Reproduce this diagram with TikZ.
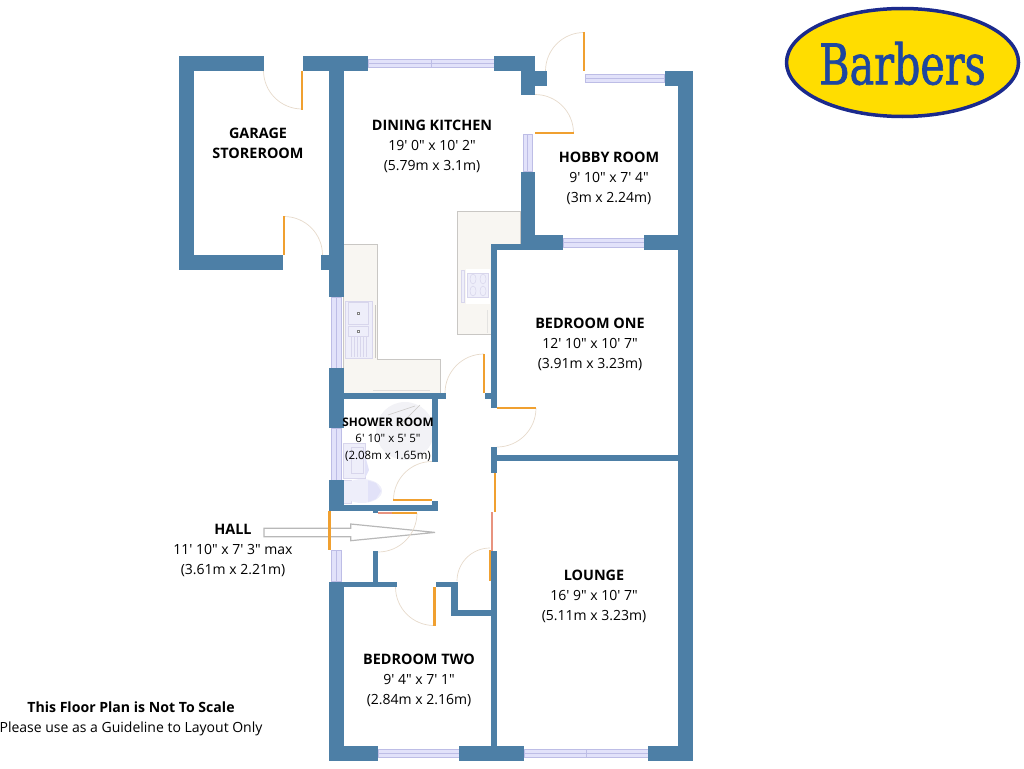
\documentclass[tikz,border=0pt]{standalone}
\usepackage{fontspec}
\setmainfont{Open Sans}
\newfontfamily\plainfont{Open Sans}
\newfontfamily\logofont[FakeBold=1.3]{DejaVu Serif Condensed}
\definecolor{wallc}{HTML}{4D7FA6}
\definecolor{glassc}{HTML}{E2E2FA}
\definecolor{glassl}{HTML}{BDBDE6}
\definecolor{leafc}{HTML}{F0A030}
\definecolor{pinkc}{HTML}{E8937F}
\definecolor{swingc}{HTML}{E6DACB}
\definecolor{unitc}{HTML}{F8F6F2}
\definecolor{unitl}{HTML}{C9C7C4}
\definecolor{fixc}{HTML}{EEEEFA}
\definecolor{fixd}{HTML}{E2E2F8}
\definecolor{fixl}{HTML}{D8D6EC}
\definecolor{trayc}{HTML}{F2F2F6}
\definecolor{logoy}{HTML}{FFDD00}
\definecolor{logob}{HTML}{1B2A8C}
\definecolor{logot}{HTML}{1E46A0}
\tikzset{
  wall/.style={fill=wallc},
  glass/.style={fill=glassc,draw=glassl,line width=0.6pt},
  leaf/.style={draw=leafc,line width=2.6pt},
  swingarc/.style={draw=swingc,line width=0.7pt},
  unit/.style={fill=unitc,draw=unitl,line width=0.8pt},
  fix/.style={fill=fixc,draw=fixl,line width=0.6pt},
  title/.style={anchor=base,font=\plainfont\fontsize{14.4}{16}\selectfont\bfseries,inner sep=0pt},
  notetitle/.style={anchor=base,font=\plainfont\fontsize{14.1}{16}\selectfont\bfseries,inner sep=0pt},
  dims/.style={anchor=base,font=\plainfont\fontsize{14}{16}\selectfont,inner sep=0pt},
  stitle/.style={anchor=base,font=\plainfont\fontsize{11.8}{14}\selectfont\bfseries,inner sep=0pt},
  sdims/.style={anchor=base,font=\plainfont\fontsize{11.5}{14}\selectfont,inner sep=0pt},
}
\newcommand\doorswing[5]{\draw[swingarc] ([shift={(#3:#5)}]#1,#2) arc[start angle=#3,end angle=#4,radius=#5];}
\begin{document}
\begin{tikzpicture}[x=1pt,y=-1pt]
\useasboundingbox (0,0) rectangle (1024,768);
% logo
\draw[fill=logoy,draw=logob,line width=3.5pt] (902.5,62.5) ellipse[x radius=116,y radius=54];
\node[inner sep=0pt] (logo) at (902.5,63.5) {\scalebox{0.82}[1.0]{\logofont\fontsize{56}{60}\selectfont\color{logot}Barbers}};
% kitchen units
\draw[unit] (343.5,244) -- (377,244) -- (377,359) -- (440,359) -- (440,393) -- (343.5,393) -- cycle;
\draw[draw=unitl,line width=0.6pt] (375,305) -- (375,358);
\draw[draw=unitl!60,line width=0.6pt] (373,390) -- (430,390);
\draw[fix] (345,301) rectangle (372,358);
\draw[fix] (348.5,302.5) rectangle (368.5,324.5);
\draw[fix] (348.5,326) rectangle (368.5,336);
\foreach \lx in {351,354,...,366} \draw[draw=fixl,line width=0.5pt] (\lx,337) -- (\lx,357);
\fill[draw=gray,line width=0.3pt,fill=white] (357.2,312.2) rectangle (358.8,313.8);
\fill[draw=gray,line width=0.3pt,fill=white] (357.2,330.2) rectangle (358.8,331.8);
\draw[unit] (457.5,211) -- (520.5,211) -- (520.5,244) -- (491,244) -- (491,334) -- (457.5,334) -- cycle;
\draw[draw=unitl!50,line width=0.5pt] (487,310) -- (487,333);
\draw[fix] (461,270) rectangle (464.5,302);
\fill[white] (466,269) rectangle (490,304);
\draw[fix] (467,273) rectangle (488,297);
\foreach \bx/\by in {473/279,473/291,483/279,483/291} \draw[draw=fixl,line width=0.5pt] (\bx,\by) ellipse[x radius=3,y radius=5];
% shower room fittings
\begin{scope}
\clip (343.5,399) rectangle (432,470);
\fill[trayc] (405,431) circle[radius=29];
\end{scope}
\draw[draw=unitl,line width=0.6pt] (388,415) -- (415,406) (398,427) -- (420,405);
\draw[fix] (343.5,443) rectangle (365,478);
\draw[draw=fixl,line width=0.5pt] (351,447) rectangle (363,473);
\fill[fixd] (365,455) -- (369,470) -- (365,478) -- cycle;
\draw[fix] (343.5,480) rectangle (351,503);
\fill[fixc] (362,491) ellipse[x radius=20,y radius=12];
\fill[fixd] (368,480.5) -- (376,483) -- (381,491) -- (376,499) -- (368,502) -- cycle;
% arrow
\draw[draw=black!28,fill=white,line width=1.2pt,line join=miter] (264,528.3) -- (350.7,528.3) -- (350.7,524) -- (435,532.4) -- (350.7,540.7) -- (350.7,536.7) -- (264,536.7) -- cycle;
% door swings
\doorswing{302}{70.5}{180}{90}{38.5}
\doorswing{284}{255}{-90}{0}{38.5}
\doorswing{584}{71}{180}{270}{38.5}
\doorswing{535}{133}{-90}{0}{38.5}
\doorswing{484}{393}{-90}{-180}{39}
\doorswing{497}{408}{0}{90}{39}
\doorswing{432}{500}{180}{270}{38.5}
\doorswing{378}{513}{0}{90}{39}
\doorswing{434}{587}{180}{90}{38.5}
\doorswing{490}{581}{180}{270}{33}
% glazing
\draw[glass] (368,59.3) rectangle (494,67.5);
\draw[draw=glassl,line width=0.5pt] (368,63.4) -- (494,63.4) (431,59.3) -- (431,67.5);
\draw[glass] (585,74) rectangle (664.5,82.7);
\draw[draw=glassl,line width=0.5pt] (585,78.3) -- (664.5,78.3);
\draw[glass] (523.5,134) rectangle (532,171.5);
\draw[draw=glassl,line width=0.5pt] (527.7,134) -- (527.7,171.5);
\draw[glass] (563,238.3) rectangle (644,247);
\draw[draw=glassl,line width=0.5pt] (563,242.6) -- (644,242.6);
\draw[glass] (331.5,297) rectangle (341,368);
\draw[draw=glassl,line width=0.5pt] (336.3,297) -- (336.3,368);
\draw[glass] (331.5,428) rectangle (341,480);
\draw[draw=glassl,line width=0.5pt] (336.3,428) -- (336.3,480);
\draw[glass] (331.5,550) rectangle (341,581.5);
\draw[draw=glassl,line width=0.5pt] (336.3,550) -- (336.3,581.5);
\draw[glass] (378,749.3) rectangle (459,757);
\draw[draw=glassl,line width=0.5pt] (378,753.2) -- (459,753.2);
\draw[glass] (524,749.3) rectangle (648,757);
\draw[draw=glassl,line width=0.5pt] (524,753.2) -- (648,753.2) (586.5,749.3) -- (586.5,757);
% walls
\fill[wall] (179,56) rectangle (264,70.5);
\fill[wall] (179,56) rectangle (194,270);
\fill[wall] (179,255) rectangle (283,270);
\fill[wall] (321,255) rectangle (329,270);
\fill[wall] (302.7,56) rectangle (368,70.5);
\fill[wall] (328.5,56) rectangle (343.5,297);
\fill[wall] (494,56) rectangle (535,70.5);
\fill[wall] (520.5,56) rectangle (535,95);
\fill[wall] (535,71) rectangle (546.5,85.5);
\fill[wall] (664.5,71) rectangle (692.5,85.5);
\fill[wall] (677.5,71) rectangle (692.5,761);
\fill[wall] (520.5,171.5) rectangle (535,250);
\fill[wall] (535,235) rectangle (563,250);
\fill[wall] (644,235) rectangle (677.5,250);
\fill[wall] (491,244) rectangle (520.5,250);
\fill[wall] (491,244) rectangle (497,407.7);
\fill[wall] (485,392.7) rectangle (491,399);
\fill[wall] (329,393) rectangle (446,399);
\fill[wall] (432,399) rectangle (438,462);
\fill[wall] (329,368) rectangle (343.5,428);
\fill[wall] (329,480) rectangle (343.5,511);
\fill[wall] (329,505) rectangle (438,511);
\fill[wall] (432,501) rectangle (438,511);
\fill[wall] (372.7,511) rectangle (378,512.5);
\fill[wall] (491,446.7) rectangle (497,473);
\fill[wall] (497,455) rectangle (677.5,461);
\fill[wall] (372.7,551) rectangle (378.3,582);
\fill[wall] (329,581.5) rectangle (397,587);
\fill[wall] (329,581.5) rectangle (343.5,761);
\fill[wall] (436,581.5) rectangle (458,587);
\fill[wall] (451,581.5) rectangle (458,615.5);
\fill[wall] (451,610) rectangle (491,615.5);
\fill[wall] (491,551) rectangle (497,746);
\fill[wall] (329,746) rectangle (378,761);
\fill[wall] (459,746) rectangle (524,761);
\fill[wall] (648,746) rectangle (692.5,761);
% door leaves
\draw[leaf] (301.8,70.5) -- (301.8,109.5);
\draw[leaf] (283.8,216) -- (283.8,255);
\draw[leaf] (584,32) -- (584,71);
\draw[leaf] (535,133) -- (574,133);
\draw[leaf] (483.8,354) -- (483.8,392.7);
\draw[leaf] (497,408) -- (536,408);
\draw[leaf] (393.3,500) -- (432,500);
\draw[leaf] (329.7,511) -- (329.7,550);
\draw[leaf] (434.3,587) -- (434.3,626);
\draw[leaf] (490,550) -- (490,581);
\draw[leaf] (495,473) -- (495,512);
\draw[leaf,draw=pinkc] (492,512) -- (492,551);
\draw[leaf,draw=pinkc] (378,513) -- (392,513);
\draw[leaf] (392,513) -- (417,513);
% labels
\node[title] (g1) at (258,138) {GARAGE};
\node[title] (g2) at (258,158) {STOREROOM};
\node[title] (k1) at (432,130) {DINING KITCHEN};
\node[dims] (k2) at (432,150) {19' 0" x 10' 2"};
\node[dims] (k3) at (432,170) {(5.79m x 3.1m)};
\node[title] (h1) at (609,162) {HOBBY ROOM};
\node[dims] (h2) at (609,182) {9' 10" x 7' 4"};
\node[dims] (h3) at (609,202) {(3m x 2.24m)};
\node[title] (b1) at (590,328) {BEDROOM ONE};
\node[dims] (b2) at (590,348) {12' 10" x 10' 7"};
\node[dims] (b3) at (590,368) {(3.91m x 3.23m)};
\node[stitle] (s1) at (388,426) {SHOWER ROOM};
\node[sdims] (s2) at (388,442) {6' 10" x 5' 5"};
\node[sdims] (s3) at (388,459) {(2.08m x 1.65m)};
\node[title] (l1) at (594,580) {LOUNGE};
\node[dims] (l2) at (594,600) {16' 9" x 10' 7"};
\node[dims] (l3) at (594,620) {(5.11m x 3.23m)};
\node[title] (t1) at (419,664) {BEDROOM TWO};
\node[dims] (t2) at (419,684) {9' 4" x 7' 1"};
\node[dims] (t3) at (419,704) {(2.84m x 2.16m)};
\node[title] (a1) at (233,534) {HALL};
\node[dims] (a2) at (233,554) {11' 10" x 7' 3" max};
\node[dims] (a3) at (233,574) {(3.61m x 2.21m)};
\node[notetitle] (n1) at (131,712) {This Floor Plan is Not To Scale};
\node[dims] (n2) at (131,732) {Please use as a Guideline to Layout Only};
\end{tikzpicture}
\end{document}
